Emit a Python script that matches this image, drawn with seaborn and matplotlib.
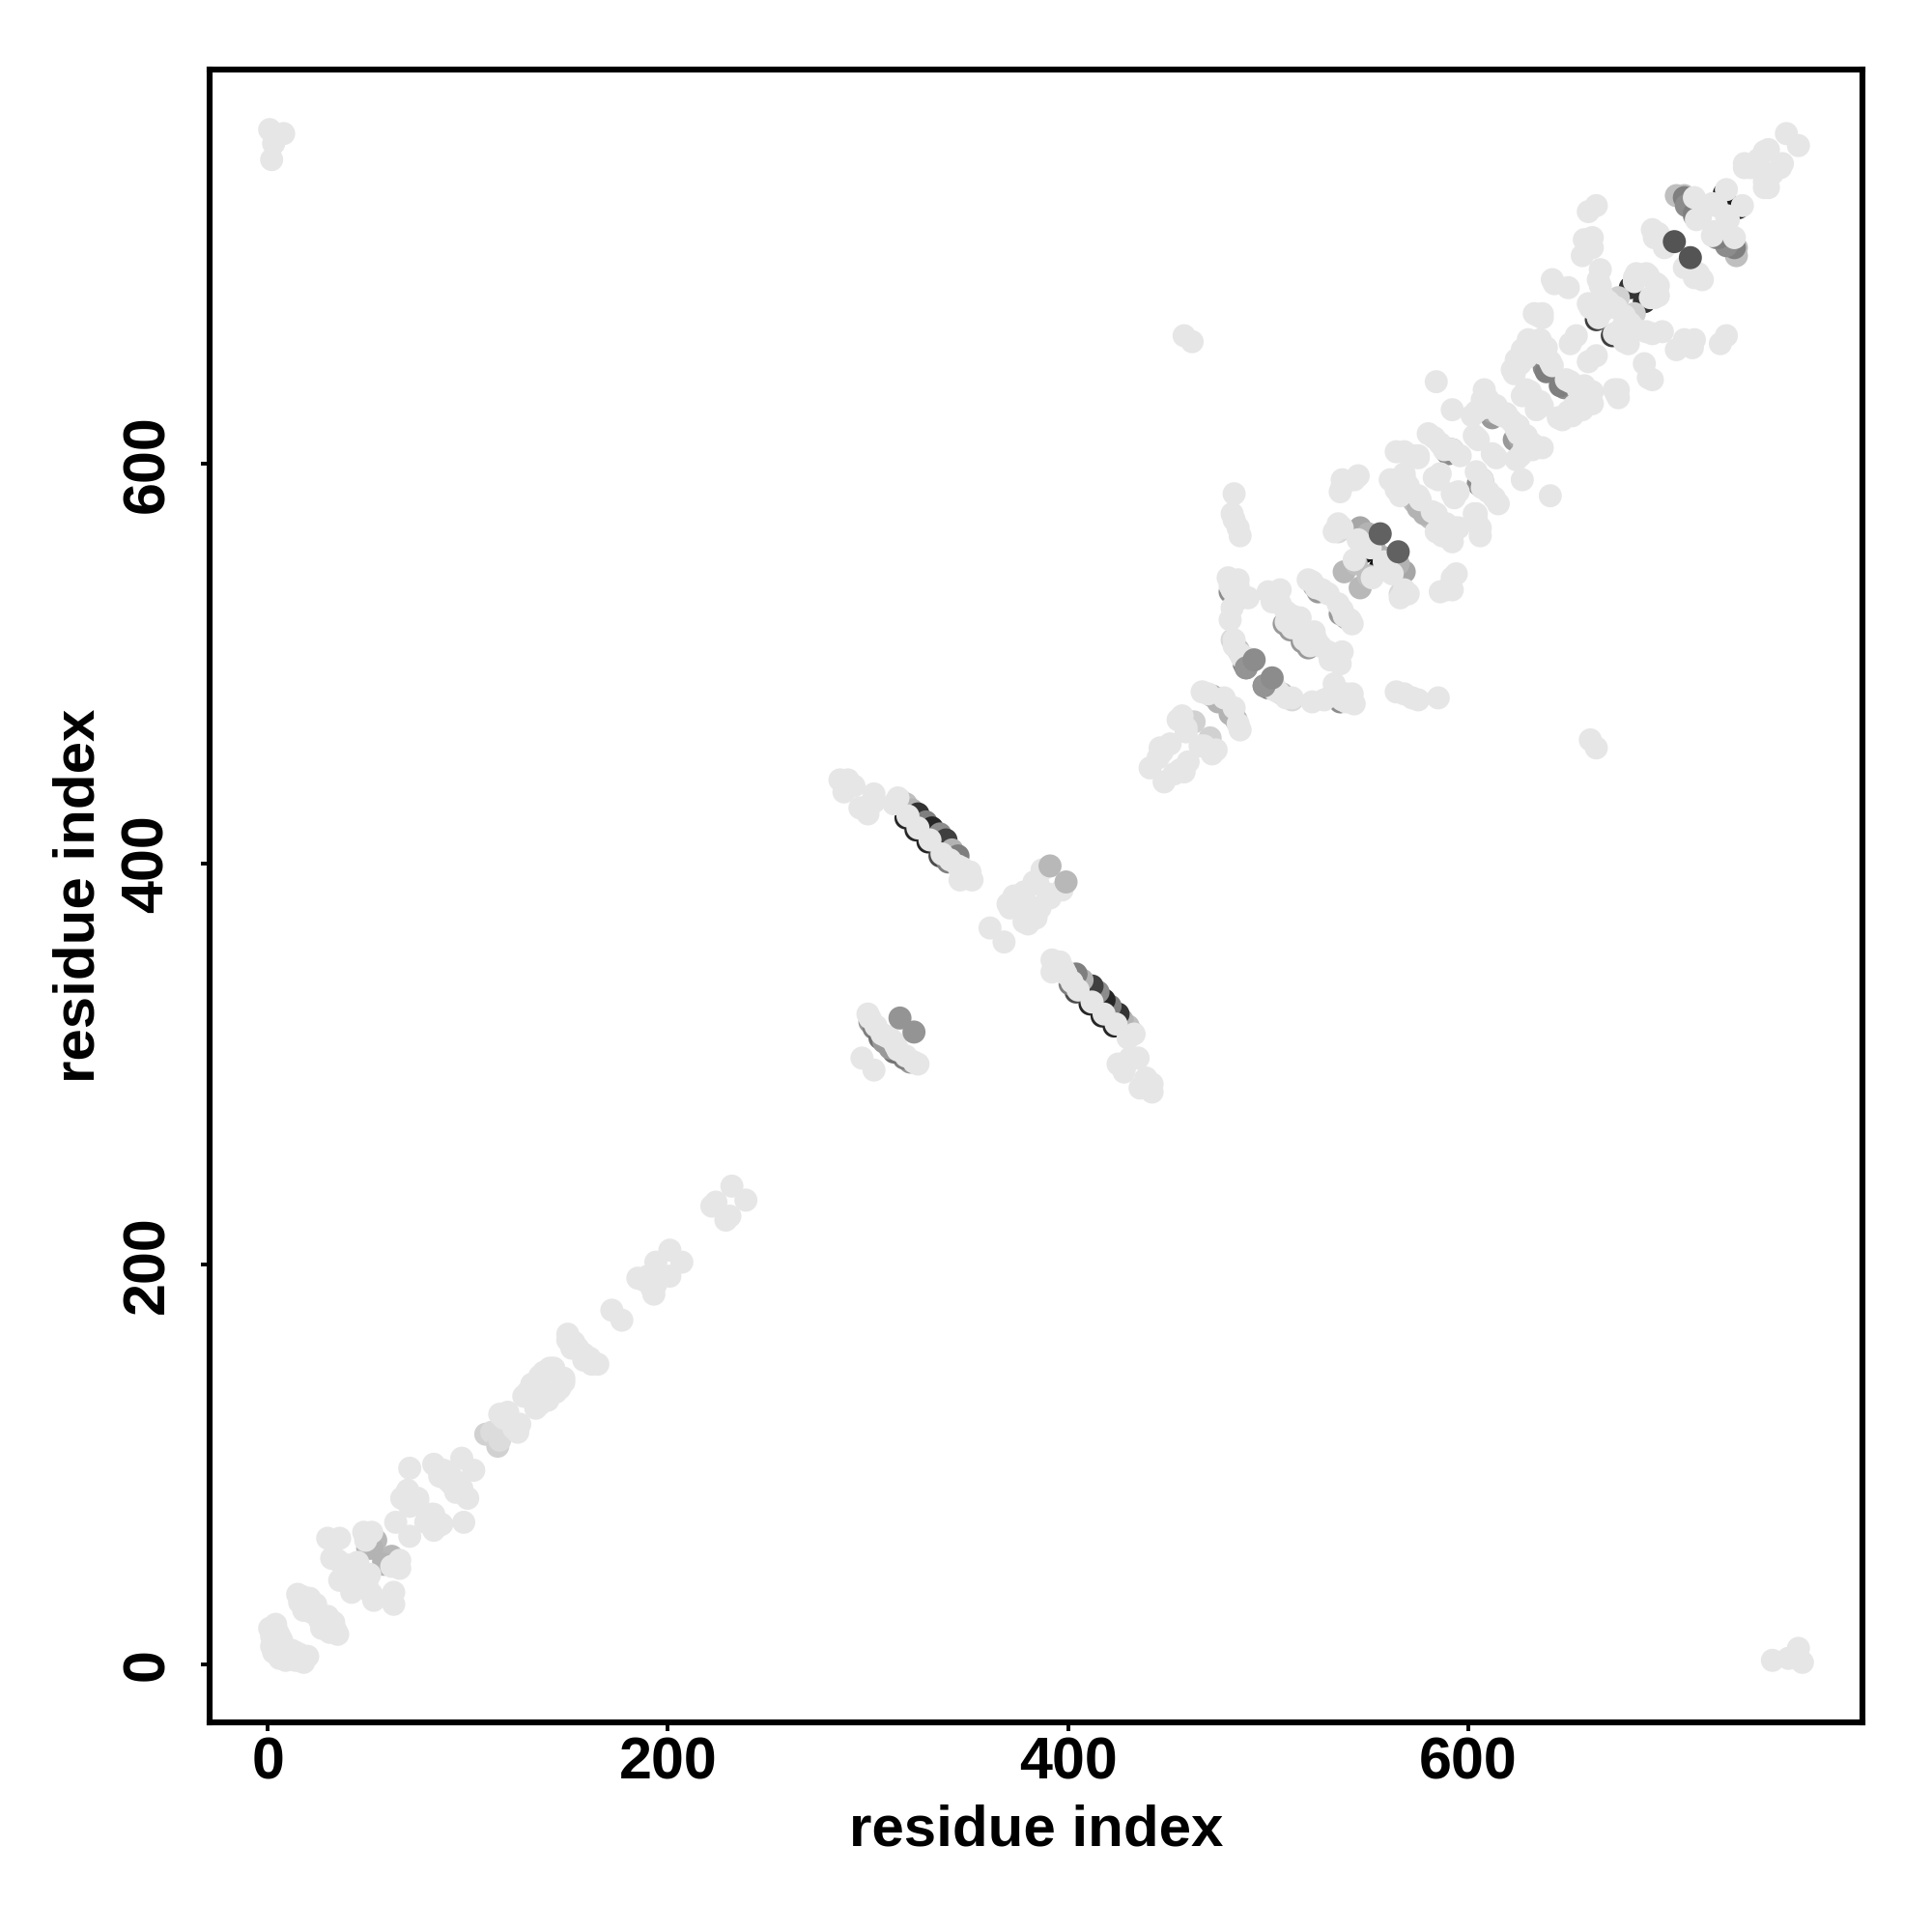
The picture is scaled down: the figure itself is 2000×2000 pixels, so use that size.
import matplotlib.pyplot as plt
import pandas as pd
import seaborn as sns

# contacts are listed once (i < j), the map is symmetric
# darker contacts that sit underneath the faint ones
under_i = [54, 50, 58, 109, 112, 316, 319, 322, 325, 329, 332, 336, 339, 342, 345, 319, 324, 330, 336, 340]
under_j = [62, 58, 52, 115, 116, 432, 430, 427, 425, 421, 418, 415, 412, 407, 404, 423, 417, 411, 404, 401]
under_s = [.28, .3, .3, .18, .14, .12, .25, .3, .8, .5, .85, .45, .75, .3, .5, .85, .85, .85, .7, .5]

under2_i = [301, 303, 306, 308, 484, 481, 486, 508, 514, 511, 474, 472, 475, 461, 463, 482, 485, 488, 489]
under2_j = [321, 318, 313, 311, 541, 536, 533, 520, 521, 517, 483, 484, 481, 471, 471, 512, 507, 500, 498]
under2_s = [.4, .5, .55, .4, .4, .45, .35, .4, .45, .4, .25, .3, .3, .15, .18, .15, .25, .5, .45]

under3_i = [525, 523, 535, 546, 550, 548, 538, 544, 553, 573, 575, 588, 589, 590, 592, 612, 612, 638, 640, 639]
under3_j = [536, 539, 566, 568, 565, 556, 546, 550, 558, 581, 578, 608, 606, 605, 607, 623, 626, 648, 649, 646]
under3_s = [.4, .35, .15, .35, .3, .92, .28, .25, .3, .25, .3, .25, .3, .45, .4, .4, .35, .45, .3, .5]

under4_i = [704, 708, 708, 709, 713, 713, 728, 664, 681, 670, 675]
under4_j = [734, 734, 733, 729, 724, 725, 735, 672, 688, 680, 683]
under4_s = [.25, .25, .5, .45, .4, .5, .9, .75, .8, .4, .18]

# faint contacts, lower part of the chain
low_i = [1, 2, 2, 3, 4, 5, 7, 3, 6, 2, 15, 17, 19, 20, 24, 22, 16, 21, 18, 23,
         30, 36, 32, 35, 39, 36, 45, 41, 48, 49, 43, 38, 52, 71, 83, 88, 97, 90, 69, 72,
         75, 71, 64, 75, 70, 67, 73, 85, 86, 91, 116, 118, 120, 128, 133, 136, 143, 141, 132, 130,
         135, 138, 150, 153, 152, 150, 155, 172, 185, 194, 201, 190, 188, 224, 232, 222, 2, 3, 1, 8, 4]
low_j = [18, 14, 9, 6, 20, 16, 12, 11, 14, 17, 35, 34, 31, 28, 30, 26, 31, 33, 27, 29,
         63, 63, 53, 52, 46, 42, 51, 47, 66, 62, 50, 50, 66, 98, 100, 97, 103, 92, 85, 83,
         82, 79, 71, 83, 87, 83, 80, 98, 94, 95, 125, 123, 126, 134, 138, 144, 148, 148, 140, 136,
         141, 146, 162, 161, 158, 165, 158, 177, 193, 201, 207, 194, 192, 231, 239, 229, 752, 760, 767, 765, 764]

# faint contacts around the central cross
center_i = [361, 387, 383, 385, 373, 370, 371, 378, 378, 374, 375, 297, 300, 301, 304, 307, 309, 311,
            286, 290, 293, 303, 300, 296, 288, 303, 300, 313, 315, 320, 325, 331, 337, 341, 345, 347, 351, 352, 346, 349]
center_j = [368, 397, 391, 390, 384, 380, 378, 386, 384, 382, 381, 303, 325, 323, 319, 315, 314, 313,
            442, 442, 439, 435, 425, 428, 436, 431, 429, 430, 433, 424, 418, 412, 405, 402, 399, 398, 396, 392, 392, 395]

# faint contacts, residues 440 to 600
mid_i = [441, 446, 451, 445, 447, 457, 455, 459, 459, 467, 470, 478, 480, 481, 485, 483, 490, 482, 481, 500,
         506, 502, 503, 506, 509, 512, 516, 483, 483, 486, 487, 489, 490, 520, 522, 524, 527, 530, 535, 537,
         533, 550, 543, 551, 545, 483, 482, 483, 485, 486, 537, 536, 545, 543, 537, 509, 515, 512, 485, 482, 487]
mid_j = [448, 458, 460, 453, 456, 474, 472, 468, 466, 486, 485, 483, 543, 539, 539, 536, 533, 528, 522, 536,
         537, 531, 533, 530, 526, 524, 523, 512, 509, 505, 503, 503, 501, 542, 541, 538, 537, 535, 570, 568,
         566, 559, 552, 558, 562, 585, 575, 572, 568, 564, 592, 586, 594, 592, 589, 521, 522, 518, 542, 537, 534]

# faint contacts, residues 560 and up
high_i = [564, 568, 572, 575, 575, 561, 568, 564, 570, 575, 576, 571, 568, 564, 566,
          580, 583, 586, 596, 592, 588, 604, 605, 603, 585, 583, 586, 584, 592,
          608, 607, 604, 602, 608, 610, 614, 617, 615, 619, 621,
          633, 637, 630, 627, 636, 624, 623, 629, 627, 629, 641, 637, 639, 629, 622, 642, 633, 626, 631,
          651, 654, 635, 637, 650, 643, 642, 664, 660, 662, 658, 657, 662, 660, 666, 665, 666,
          458, 462, 683, 689, 690, 684, 683, 665, 667, 660, 661, 670, 668, 672, 674,
          692, 697, 695, 698, 693, 713, 722, 729, 716, 714, 724, 738, 743, 741, 750, 748, 759, 745, 738]
high_j = [606, 606, 604, 603, 604, 592, 595, 587, 589, 584, 582, 586, 593, 592, 584,
          615, 613, 610, 604, 607, 607, 613, 612, 614, 592, 593, 595, 641, 627,
          637, 632, 626, 624, 628, 632, 629, 624, 625, 625, 622,
          675, 675, 662, 657, 662, 652, 645, 637, 634, 635, 651, 655, 658, 653, 647, 649, 660, 650, 636,
          660, 664, 674, 673, 688, 690, 692, 729, 726, 713, 712, 704, 708, 709, 697, 692, 689,
          664, 661, 693, 695, 694, 695, 691, 673, 684, 680, 678, 681, 677, 679, 678,
          717, 712, 715, 708, 713, 733, 730, 737, 723, 722, 729, 748, 749, 748, 757, 756, 765, 752, 750]

# strong contacts drawn last
over_i = [391, 316, 489, 493, 556, 703]
over_j = [399, 323, 498, 502, 565, 711]
over_s = [.28, .42, .42, .45, .62, .67]

faint_level = 0.1

under_all_i = under_i + under2_i + under3_i + under4_i
under_all_j = under_j + under2_j + under3_j + under4_j
under_all_s = under_s + under2_s + under3_s + under4_s
faint_i = low_i + center_i + mid_i + high_i
faint_j = low_j + center_j + mid_j + high_j

first = under_all_i + faint_i + over_i
second = under_all_j + faint_j + over_j
level = under_all_s + [faint_level] * len(faint_i) + over_s
layer = [0] * len(under_all_i) + [1] * len(faint_i) + [2] * len(over_i)

df = pd.DataFrame({
    "x": first + second,
    "y": second + first,
    "level": level + level,
    "layer": layer + layer,
})
# keep the layers in order on both sides of the diagonal
df = df.sort_values("layer", kind="stable")

sns.set_style("white")
plt.rcParams["font.family"] = ["Liberation Sans", "DejaVu Sans"]
plt.rcParams["font.weight"] = "bold"

fig = plt.figure(figsize=(10, 10), dpi=200)
ax = fig.add_axes([0.1085, 0.1085, 0.8555, 0.8555])

sns.scatterplot(data=df, x="x", y="y", hue="level", palette="gray_r", hue_norm=(0, 1),
                s=74, linewidth=0, legend=False, ax=ax)

ax.set_xlim(-29, 797)
ax.set_ylim(-29, 797)
ax.set_xticks([0, 200, 400, 600])
ax.set_yticks([0, 200, 400, 600])
ax.set_xlabel("residue index", fontsize=21.6, fontweight="bold", color="black", labelpad=4.5)
ax.set_ylabel("residue index", fontsize=21.6, fontweight="bold", color="black", labelpad=5.5)
ax.tick_params(axis="both", which="major", bottom=True, left=True, length=3.3, width=1.4,
               labelsize=22, color="black", labelcolor="black")
ax.tick_params(axis="x", pad=2)
ax.tick_params(axis="y", labelrotation=90, pad=9.3)
for t in ax.get_yticklabels():
    t.set_va("center")
for side in ax.spines.values():
    side.set_linewidth(2.2)
    side.set_color("black")

fig.savefig("out.png", dpi=200)
